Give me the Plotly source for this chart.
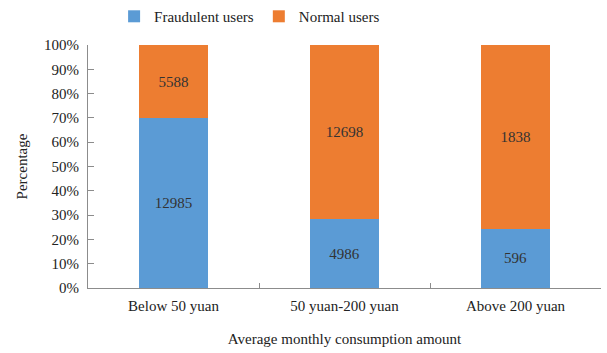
import plotly.graph_objects as go

categories = ["Below 50 yuan", "50 yuan-200 yuan", "Above 200 yuan"]
fraudulent = [12985, 4986, 596]
normal = [5588, 12698, 1838]

FONT = "Liberation Serif"
fig = go.Figure()
fig.add_trace(go.Bar(name="Fraudulent users", x=categories, y=fraudulent,
                     text=fraudulent, textposition="inside", insidetextanchor="middle",
                     marker=dict(color="#5B9BD5", line=dict(width=0)),
                     insidetextfont=dict(color="#333333", size=15, family=FONT), width=0.4))
fig.add_trace(go.Bar(name="Normal users", x=categories, y=normal,
                     text=normal, textposition="inside", insidetextanchor="middle",
                     marker=dict(color="#ED7D31", line=dict(width=0)),
                     insidetextfont=dict(color="#333333", size=15, family=FONT), width=0.4))

fig.update_layout(
    barmode="stack", barnorm="percent",
    width=607, height=353,
    margin=dict(l=88, r=6, t=45, b=65, autoexpand=False),
    paper_bgcolor="white", plot_bgcolor="white",
    font=dict(family=FONT, size=15, color="#222222"),
    uniformtext=dict(mode="show", minsize=15),
    showlegend=True,
    legend=dict(orientation="h", x=0.315, xanchor="center", y=1.185, yanchor="top",
                font=dict(size=15, family=FONT, color="#222222", weight="normal", style="normal"),
                itemwidth=30, traceorder="normal", bgcolor="rgba(0,0,0,0)"),
    xaxis=dict(showline=True, linecolor="#8c8c8c", linewidth=1, ticks="inside",
               tickson="boundaries", ticklen=5, tickcolor="#8c8c8c",
               showgrid=False, tickfont=dict(size=15, family=FONT), ticklabelstandoff=4,
               title=dict(text="Average monthly consumption amount", font=dict(size=15, family=FONT), standoff=20)),
    yaxis=dict(range=[0, 100], dtick=10, ticksuffix="%", showline=True, linecolor="#8c8c8c",
               linewidth=1, ticks="inside", ticklen=6, tickcolor="#8c8c8c",
               showgrid=False, zeroline=False, tickfont=dict(size=15, family=FONT), ticklabelstandoff=5,
               title=dict(text="Percentage", font=dict(size=15, family=FONT), standoff=12)),
)
fig.write_html("out.html")
